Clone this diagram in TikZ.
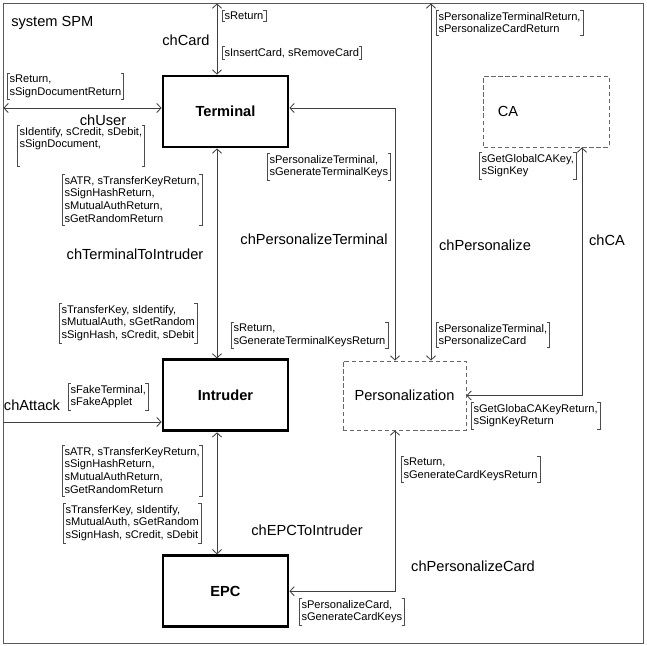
\documentclass[tikz,border=0pt]{standalone}
\usepackage{fontspec}
\setmainfont{Liberation Sans}
\usetikzlibrary{arrows.meta,positioning}

\begin{document}
\begin{tikzpicture}[
  x=0.025cm, y=-0.025cm,
  >={Straight Barb[length=3pt,width=6.5pt]},
  every node/.style={inner sep=0pt},
  frame/.style={draw=black!65, line width=0.7pt, minimum width=15.975cm, minimum height=15.975cm},
  process/.style={draw=black, line width=2pt, minimum width=3.125cm, minimum height=1.775cm, font=\fontsize{10.4}{12}\selectfont\bfseries},
  env/.style={draw=black!60, dash pattern=on 3pt off 2pt, line width=0.6pt, minimum width=3.075cm, minimum height=1.725cm, font=\fontsize{10.4}{12}\selectfont},
  chname/.style={font=\fontsize{10.4}{12}\selectfont},
  sig/.style={anchor=north west, align=left, inner xsep=1.6pt, inner ysep=1.2pt, font=\fontsize{7.9}{9.2}\selectfont},
  brk/.style={draw=black!70, line width=0.5pt},
  chan/.style={draw=black!75, line width=0.6pt}
]
  \useasboundingbox (0,0) rectangle (647,646);

  % System frame
  \node[frame] (spm) at (323.5,323.5) {};
  \node[chname, anchor=west] (sysname) at (11,23) {system SPM};

  % Processes
  \node[process] (Terminal) at (225.5,111.5) {Terminal};
  \node[process, below=5.25cm of Terminal] (Intruder) {Intruder};
  \node[process, below=3.05cm of Intruder] (EPC) {EPC};
  \node[env] (Personalization) at (404.5,395.5) {Personalization};
  \node[env, right=4.85cm of Terminal, minimum width=3.125cm, minimum height=1.775cm,
        inner xsep=0.35cm, text width=2.425cm, align=left] (CA) {CA};

  % Channel columns and rows
  \coordinate (colA) at (217,0);
  \coordinate (colB) at (395,0);
  \coordinate (colC) at (431,0);
  \coordinate (colD) at (582,0);
  \coordinate (rowA) at (0,108);
  \coordinate (rowB) at (0,422);

  % Channels
  \draw[chan, <->] (Terminal.north -| colA) -- (spm.north -| colA);
  \draw[chan, <->] (spm.west |- rowA) -- (Terminal.west |- rowA);
  \draw[chan, <->] (Terminal.south -| colA) -- (Intruder.north -| colA);
  \draw[chan, ->] (spm.west |- rowB) -- (Intruder.west |- rowB);
  \draw[chan, <->] (Intruder.south -| colA) -- (EPC.north -| colA);
  \draw[chan, <->] (Terminal.east |- rowA) -| (Personalization.north -| colB);
  \draw[chan, <->] (spm.north -| colC) -- (Personalization.north -| colC);
  \draw[chan, <->] (CA.south -| colD) |- (Personalization.east);
  \draw[chan, <->] (EPC.east) -| (Personalization.south -| colB);

  % Channel names
  \node[chname] (chCard) at (186,40) {chCard};
  \node[chname] (chUser) at (103,120) {chUser};
  \node[chname] (chTermInt) at (135,254) {chTerminalToIntruder};
  \node[chname] (chAttack) at (32,405) {chAttack};
  \node[chname] (chEpcInt) at (307,530) {chEPCToIntruder};
  \node[chname] (chPersTerm) at (314,239) {chPersonalizeTerminal};
  \node[chname] (chPers) at (485,245) {chPersonalize};
  \node[chname] (chCA) at (607,240) {chCA};
  \node[chname] (chPersCard) at (473,566) {chPersonalizeCard};

  % Signal sets
  \node[sig] (sRetCard) at (222,10) {sReturn};
  \node[sig] (sInsCard) at (222,46) {sInsertCard, sRemoveCard};
  \node[sig] (sRetUser) at (7,73) {sReturn,\\sSignDocumentReturn};
  \node[sig] (sIdUser) at (17,125) {sIdentify, sCredit, sDebit,\\sSignDocument,\\\strut};
  \node[sig] (sAtrTI) at (62,174) {sATR, sTransferKeyReturn,\\sSignHashReturn,\\sMutualAuthReturn,\\sGetRandomReturn};
  \node[sig] (sKeyTI) at (59,303) {sTransferKey, sIdentify,\\sMutualAuth, sGetRandom\\sSignHash, sCredit, sDebit};
  \node[sig] (sFake) at (68,383) {sFakeTerminal,\\sFakeApplet};
  \node[sig] (sAtrEI) at (62,445) {sATR, sTransferKeyReturn,\\sSignHashReturn,\\sMutualAuthReturn,\\sGetRandomReturn};
  \node[sig] (sKeyEI) at (63,503) {sTransferKey, sIdentify,\\sMutualAuth, sGetRandom\\sSignHash, sCredit, sDebit};
  \node[sig] (sPersCard) at (299,598) {sPersonalizeCard,\\sGenerateCardKeys};
  \node[sig] (sRetCardKeys) at (401,456) {sReturn,\\sGenerateCardKeysReturn};
  \node[sig] (sGetRet) at (471,402) {sGetGlobaCAKeyReturn,\\sSignKeyReturn};
  \node[sig] (sPersTC) at (436,322) {sPersonalizeTerminal,\\sPersonalizeCard};
  \node[sig] (sRetTermKeys) at (231,322) {sReturn,\\sGenerateTerminalKeysReturn};
  \node[sig] (sPersTerm) at (267,153) {sPersonalizeTerminal,\\sGenerateTerminalKeys};
  \node[sig] (sGetCA) at (479,152) {sGetGlobalCAKey,\\sSignKey};
  \node[sig] (sPersRet) at (436,10) {sPersonalizeTerminalReturn,\\sPersonalizeCardReturn};

  % Brackets round the signal sets
  \foreach \s in {sRetCard,sInsCard,sRetUser,sIdUser,sAtrTI,sKeyTI,sFake,sAtrEI,sKeyEI,
                  sPersCard,sRetCardKeys,sGetRet,sPersTC,sRetTermKeys,sPersTerm,sGetCA,sPersRet}
    \draw[brk] ([xshift=2.2pt]\s.north west) -| (\s.south west) -- ++(2.2pt,0)
               ([xshift=-2.2pt]\s.north east) -| (\s.south east) -- ++(-2.2pt,0);
\end{tikzpicture}
\end{document}
